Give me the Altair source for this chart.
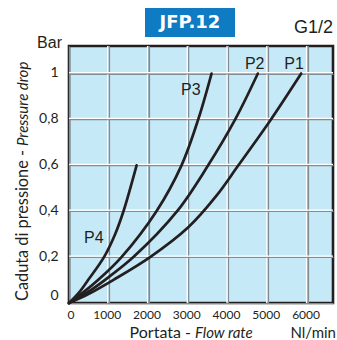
import altair as alt
import pandas as pd

# Pressure drop (bar) against flow rate (Nl/min), one curve per inlet pressure
p1_flow = [0, 500, 1110, 2040, 3000, 3720, 4260, 5080, 5840]
p1_drop = [0, 0.04, 0.10, 0.20, 0.33, 0.47, 0.60, 0.80, 1.00]

p2_flow = [0, 450, 900, 1620, 2720, 3500, 4180, 4750]
p2_drop = [0, 0.045, 0.10, 0.20, 0.40, 0.60, 0.80, 1.00]

p3_flow = [0, 350, 730, 1320, 2200, 2830, 3250, 3585]
p3_drop = [0, 0.045, 0.10, 0.20, 0.40, 0.60, 0.80, 1.00]

p4_flow = [0, 250, 480, 880, 1160, 1370, 1700]
p4_drop = [0, 0.045, 0.10, 0.20, 0.30, 0.40, 0.60]

series_names = ["P1", "P2", "P3", "P4"]
label_flow = [5660, 4670, 3065, 625]
label_drop = [1.04, 1.04, 0.93, 0.283]

x_ticks = [0, 1000, 2000, 3000, 4000, 5000, 6000]
y_ticks = [0, 0.2, 0.4, 0.6, 0.8, 1.0]
x_max, y_max = 6640, 1.12

W, H = 264, 257
PAD_L, PAD_T = 69, 46
INK = "#231f20"
GRID_SHADE = "#7f8d95"
PLOT_FILL = "#c6e9f8"

rows = []
for name, fl, dr in zip(series_names, [p1_flow, p2_flow, p3_flow, p4_flow],
                        [p1_drop, p2_drop, p3_drop, p4_drop]):
    for f, d in zip(fl, dr):
        rows.append({"serie": name, "flow": f, "drop": d})
curves = pd.DataFrame(rows)
labels = pd.DataFrame({"serie": series_names, "flow": label_flow, "drop": label_drop})

xs = alt.Scale(domain=[0, x_max], nice=False, zero=True)
ys = alt.Scale(domain=[0, y_max], nice=False, zero=True)

x_axis = alt.Axis(values=x_ticks, grid=True, gridColor=GRID_SHADE, gridWidth=1.2,
                  ticks=False, domain=False, title=None,
                  format="d", labelFont="Lato", labelFontSize=12, labelColor=INK,
                  labelPadding=6, labelOffset=-2)
y_axis = alt.Axis(values=y_ticks, grid=True, gridColor=GRID_SHADE, gridWidth=1.2,
                  ticks=False, domain=False, title=None,
                  labelFont="Lato", labelFontSize=14, labelColor=INK,
                  labelPadding=11,
                  labelExpr="replace(format(datum.value, '.1~f'), '.', ',')",
                  labelOffset={"condition": {"test": "datum.value === 0", "value": -8},
                               "value": -1})

one = pd.DataFrame({"k": [0]})

base = alt.Chart(curves)

axes = base.mark_point(opacity=0).encode(
    x=alt.X("flow:Q", scale=xs, axis=x_axis),
    y=alt.Y("drop:Q", scale=ys, axis=y_axis),
)

vgrid = pd.DataFrame({"flow": x_ticks[1:]})
hgrid = pd.DataFrame({"drop": y_ticks[1:]})


def vline(color, thickness, dx):
    return alt.Chart(vgrid).mark_tick(
        color=color, thickness=thickness, size=2 * H, xOffset=dx,
        orient="vertical", clip=True, opacity=1,
    ).encode(x=alt.X("flow:Q", scale=xs), y=alt.value(H / 2))


def hline(color, thickness, dy):
    return alt.Chart(hgrid).mark_tick(
        color=color, thickness=thickness, size=2 * W, yOffset=dy,
        orient="horizontal", clip=True, opacity=1,
    ).encode(y=alt.Y("drop:Q", scale=ys), x=alt.value(W / 2))


# each grid line: a grey line with a white highlight beside it
grid = [vline(GRID_SHADE, 1.2, 0.3), vline("white", 1.3, -1.0),
        hline(GRID_SHADE, 1.2, 0.3), hline("white", 1.3, -1.0)]

lines = base.mark_line(color=INK, strokeWidth=2.7, interpolate="catmull-rom",
                       strokeCap="round").encode(
    x=alt.X("flow:Q", scale=xs),
    y=alt.Y("drop:Q", scale=ys),
    detail="serie:N",
    order="flow:Q",
)

curve_labels = alt.Chart(labels).mark_text(
    font="Liberation Sans", fontSize=16, color=INK, baseline="middle"
).encode(
    x=alt.X("flow:Q", scale=xs),
    y=alt.Y("drop:Q", scale=ys),
    text="serie:N",
)


def txt(text, x, y, **kw):
    return alt.Chart(one).mark_text(text=text, **kw).encode(
        x=alt.value(x), y=alt.value(y))


badge = alt.Chart(one).mark_rect(color="#0f7bc2").encode(
    x=alt.value(145 - PAD_L), x2=alt.value(235 - PAD_L),
    y=alt.value(8 - PAD_T), y2=alt.value(37 - PAD_T),
)

chart = alt.layer(
    axes, *grid, lines, curve_labels, badge,
    txt("JFP.12", 190 - PAD_L, 23 - PAD_T, font="DejaVu Sans", fontWeight="bold",
        fontSize=18, color="white", align="center", baseline="middle"),
    txt("G1/2", 333 - PAD_L, 33 - PAD_T, font="Liberation Sans", fontSize=18,
        color=INK, align="right", baseline="alphabetic"),
    txt("Bar", 62 - PAD_L, 48 - PAD_T, font="Liberation Sans", fontSize=16,
        color=INK, align="right", baseline="alphabetic"),
    txt("Portata -", 191 - PAD_L, 338 - PAD_T, font="Lato", fontSize=16,
        color=INK, align="right", baseline="alphabetic"),
    txt("Flow rate", 195 - PAD_L, 338 - PAD_T, font="Lato", fontSize=15,
        fontStyle="italic", color=INK, align="left", baseline="alphabetic"),
    txt("Nl/min", 336 - PAD_L, 338 - PAD_T, font="Lato", fontSize=15,
        color=INK, align="right", baseline="alphabetic"),
    txt("Caduta di pressione -", 28 - PAD_L, 150 - PAD_T, font="Lato", fontSize=16.3,
        angle=270, color=INK, align="right", baseline="alphabetic"),
    txt("Pressure drop", 28 - PAD_L, 146 - PAD_T, font="Lato", fontSize=15,
        fontStyle="italic", angle=270, color=INK, align="left",
        baseline="alphabetic"),
).properties(
    width=W, height=H,
    background="white",
    autosize=alt.AutoSizeParams(type="none"),
    padding={"left": PAD_L, "top": PAD_T, "right": 337 - PAD_L - W,
             "bottom": 340 - PAD_T - H},
).configure_view(fill=PLOT_FILL, stroke=INK, strokeWidth=2.6)

chart.save("out.html", embed_options={"renderer": "svg", "actions": False})
